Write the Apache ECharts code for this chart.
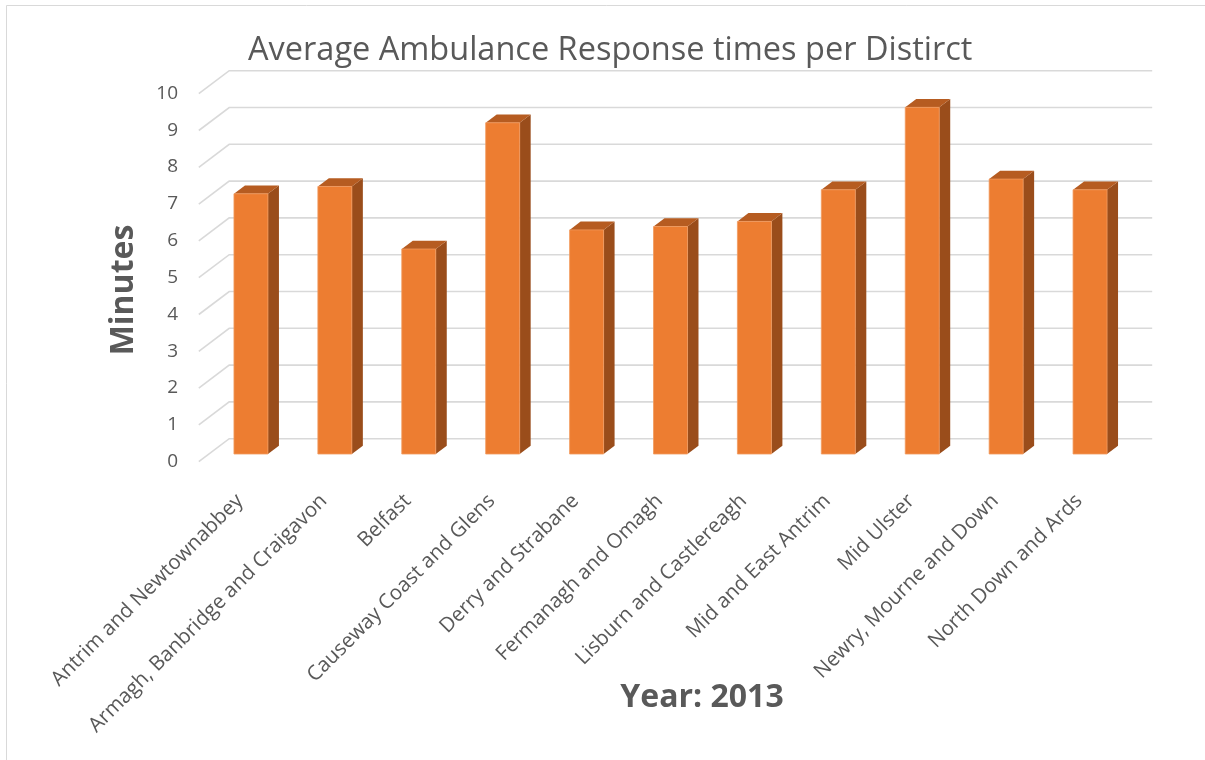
<!DOCTYPE html>
<html><head><meta charset="utf-8">
<script src="https://cdn.jsdelivr.net/npm/echarts@6/dist/echarts.min.js"></script>
<style>html,body{margin:0;padding:0;background:#fff}#c{width:1205px;height:760px}</style>
</head><body><div id="c"></div>
<script>
const categories = ['Antrim and Newtownabbey','Armagh, Banbridge and Craigavon','Belfast','Causeway Coast and Glens','Derry and Strabane','Fermanagh and Omagh','Lisburn and Castlereagh','Mid and East Antrim','Mid Ulster','Newry, Mourne and Down','North Down and Ards'];
const values = [7.07, 7.27, 5.57, 9.0, 6.09, 6.18, 6.32, 7.18, 9.42, 7.47, 7.18];
const yTicks = [0,1,2,3,4,5,6,7,8,9,10];
const titleText = 'Average Ambulance Response times per Distirct';
const yName = 'Minutes';
const xName = 'Year: 2013';

const FONT = '"Open Sans", "Noto Sans", sans-serif';
const TXT = '#595959';
const DEPTH = [11, -8.3];           // bar depth offset
const FRONT = [-10.2, 7.7];         // floor front edge offset from bar plane
const BACK = [20.2, -15.3];         // back wall offset from bar plane

const chart = echarts.init(document.getElementById('c'));
chart.setOption({
  animation: false,
  backgroundColor: '#fff',
  title: {
    text: titleText, left: 243, top: 29,
    textStyle: {fontFamily: FONT, fontSize: 32.5, fontWeight: 'normal', color: TXT}
  },
  grid: [
    {left: 209, right: 73, top: 86, bottom: 306},
    {left: 198, right: 84, top: 93.3, bottom: 298.3}
  ],
  xAxis: [
    {type: 'category', gridIndex: 0, data: categories, show: false},
    {type: 'category', gridIndex: 1, data: categories,
     axisLine: {show: false}, axisTick: {show: false},
     axisLabel: {interval: 0, rotate: 45, margin: 36, fontSize: 20.5, color: TXT, fontFamily: FONT}}
  ],
  yAxis: [
    {type: 'value', gridIndex: 0, min: 0, max: 10, interval: 1, show: false},
    {type: 'value', gridIndex: 1, min: 0, max: 10, interval: 1,
     axisLine: {show: false}, axisTick: {show: false}, splitLine: {show: false},
     axisLabel: {margin: 20, fontSize: 19, color: TXT, fontFamily: FONT}}
  ],
  graphic: [
    {type: 'rect', silent: true, shape: {x: 6.5, y: 5.5, width: 1300, height: 900},
     style: {fill: 'none', stroke: '#d9d9d9', lineWidth: 1}},
    {type: 'text', x: 124, y: 290, rotation: Math.PI / 2,
     style: {text: yName, font: 'bold 32px ' + FONT, fill: TXT, textAlign: 'center', textVerticalAlign: 'middle'}},
    {type: 'text', x: 702, y: 698,
     style: {text: xName, font: 'bold 32px ' + FONT, fill: TXT, textAlign: 'center', textVerticalAlign: 'middle'}}
  ],
  series: [
    {
      type: 'custom', xAxisIndex: 0, yAxisIndex: 0, z: 1, silent: true,
      data: yTicks.map(t => [0, t]),
      renderItem: function (params, api) {
        const cs = params.coordSys;
        const y = api.coord([0, api.value(1)])[1];
        return {
          type: 'polyline',
          shape: {points: [
            [cs.x + FRONT[0], y + FRONT[1]],
            [cs.x + BACK[0], y + BACK[1]],
            [cs.x + cs.width + BACK[0], y + BACK[1]]
          ]},
          style: {stroke: '#d9d9d9', lineWidth: 1.6, fill: 'none'}
        };
      }
    },
    {
      type: 'custom', xAxisIndex: 0, yAxisIndex: 0, z: 5,
      data: values.map((v, i) => [i, v]),
      renderItem: function (params, api) {
        const top = api.coord([api.value(0), api.value(1)]);
        const base = api.coord([api.value(0), 0]);
        const w = api.size([1, 0])[0] * 0.405;
        const x0 = top[0] - w / 2, x1 = top[0] + w / 2;
        const yt = top[1], yb = base[1];
        const dx = DEPTH[0], dy = DEPTH[1];
        return {
          type: 'group',
          children: [
            {type: 'polygon', shape: {points: [[x1, yt], [x1 + dx, yt + dy], [x1 + dx, yb + dy], [x1, yb]]},
             style: {fill: '#9a4d1b'}},
            {type: 'polygon', shape: {points: [[x0, yt], [x0 + dx, yt + dy], [x1 + dx, yt + dy], [x1, yt]]},
             style: {fill: '#b65c21'}},
            {type: 'rect', shape: {x: x0, y: yt, width: w, height: yb - yt},
             style: {fill: '#ed7d31', stroke: '#f19a5e', lineWidth: 0.8}}
          ]
        };
      }
    }
  ]
});
</script>
</body></html>
